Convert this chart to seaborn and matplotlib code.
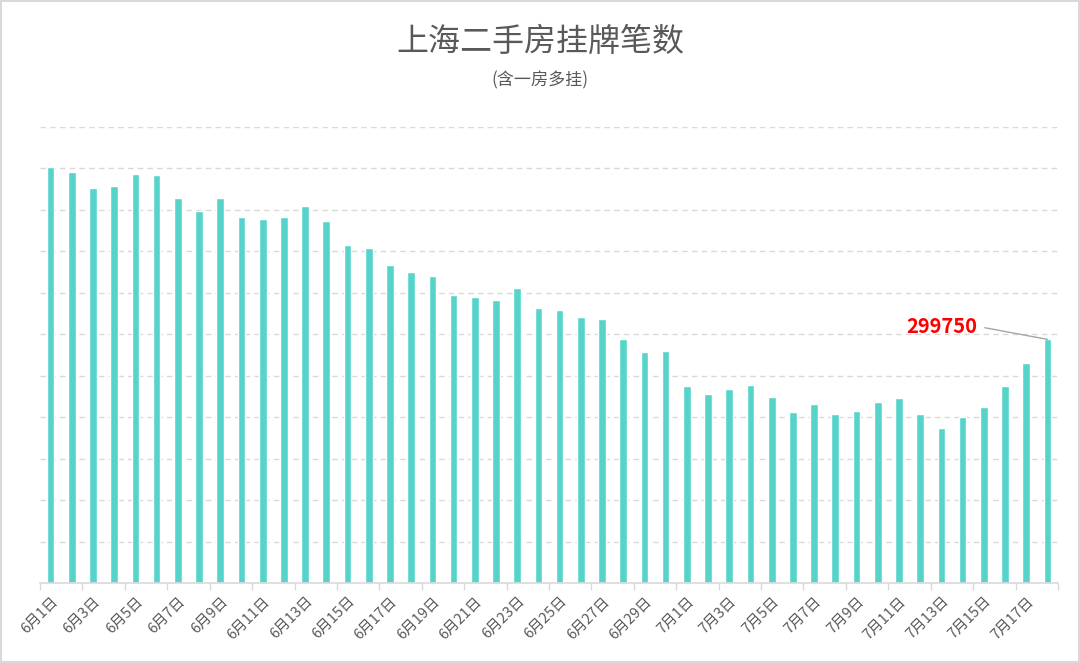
import numpy as np
import pandas as pd
import matplotlib
matplotlib.use("Agg")
import matplotlib.pyplot as plt
import seaborn as sns

# Daily listing counts, 6月1日 .. 7月18日
dates = ["6月{}日".format(d) for d in range(1, 31)] + ["7月{}日".format(d) for d in range(1, 19)]
listings = [
    511500, 505400, 486000, 488100, 502900, 502000, 474000, 458000, 473300, 450200,
    447800, 450200, 464200, 444900, 415300, 411600, 390700, 382400, 377100, 354900,
    351900, 347900, 363000, 338800, 335500, 327700, 325300, 299700, 284100, 284900,
    242100, 233100, 238400, 244200, 229100, 210600, 220800, 208500, 212200, 222400,
    227300, 207600, 190300, 204800, 217100, 242100, 270100, 299750,
]
title = "上海二手房挂牌笔数"
subtitle = "(含一房多挂)"

df = pd.DataFrame({"date": dates, "listings": listings})

sns.set_theme(style="white")
plt.rcParams["font.family"] = ["Noto Sans CJK SC", "DejaVu Sans"]

fig = plt.figure(figsize=(10.8, 6.63), dpi=100)
fig.patch.set_edgecolor("#D9D9D9")
fig.patch.set_linewidth(1.5)
ax = fig.add_axes([40 / 1080, 1 - 583 / 663, 1018 / 1080, 456 / 663])

sns.barplot(data=df, x="date", y="listings", color="#57D4C9", saturation=1,
            width=0.36, ax=ax)

# y axis: hidden labels, dashed gridlines
step = 51000
ax.set_ylim(0, 11 * step)
ax.set_yticks(np.arange(1, 12) * step)
ax.set_yticklabels([])
ax.tick_params(axis="y", length=0)
ax.yaxis.grid(True, color="#D9D9D9", linestyle=(0, (4, 3)), linewidth=1)
ax.set_axisbelow(True)
ax.set_xlim(-0.5, len(dates) - 0.5)

for side in ["top", "right", "left"]:
    ax.spines[side].set_visible(False)
ax.spines["bottom"].set_color("#D9D9D9")
ax.spines["bottom"].set_linewidth(1.2)

# x axis: labels every 2nd day, tick marks on category boundaries
pos = np.arange(0, len(dates), 2)
ax.set_xticks(pos)
ax.set_xticklabels([dates[i] for i in pos], rotation=45, ha="right",
                   rotation_mode="anchor", fontsize=10.5, color="#595959")
ax.set_xticks(np.arange(-0.5, len(dates), 2), minor=True)
ax.tick_params(axis="x", which="major", length=0, pad=8)
ax.tick_params(axis="x", which="minor", length=5, width=1, color="#D9D9D9", bottom=True)
ax.set_xlabel("")
ax.set_ylabel("")

# annotate the latest value
last = len(dates) - 1
ax.annotate(str(listings[last]), xy=(last, listings[last]), xytext=(-70, 13),
            textcoords="offset pixels", ha="right", va="center",
            fontsize=14.5, fontweight="bold", color="#FF0000",
            arrowprops=dict(arrowstyle="-", color="#A6A6A6", lw=1,
                            relpos=(1, 0.5), shrinkA=3, shrinkB=0))

fig.text(0.5, 1 - 42 / 663, title, ha="center", va="center", fontsize=23, color="#595959")
fig.text(0.5, 1 - 80 / 663, subtitle, ha="center", va="center", fontsize=12.3, color="#595959")

fig.savefig("out.png", dpi=100, facecolor="white", edgecolor=fig.get_edgecolor())
